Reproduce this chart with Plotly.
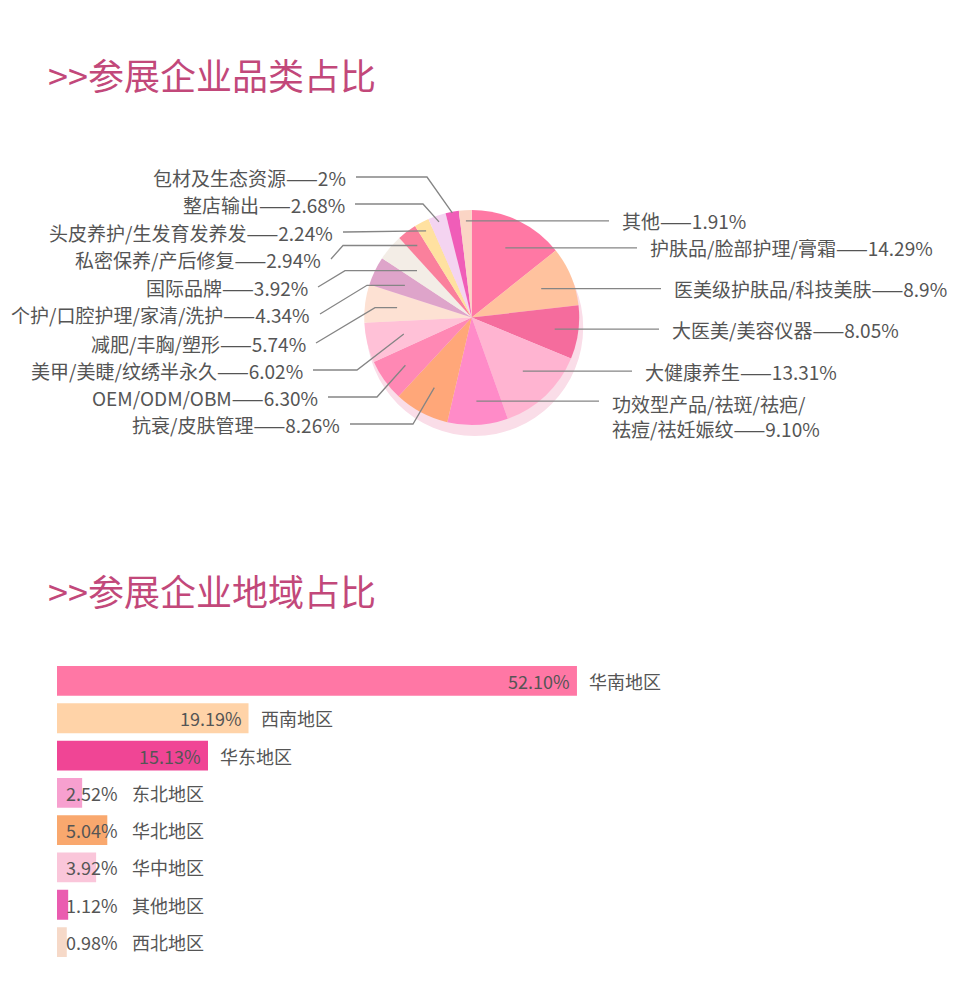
import math
import plotly.graph_objects as go

# ---------------- data ----------------
pie_labels = ["护肤品/脸部护理/膏霜", "医美级护肤品/科技美肤", "大医美/美容仪器", "大健康养生",
              "功效型产品/祛斑/祛疤/<br>祛痘/祛妊娠纹", "抗衰/皮肤管理", "OEM/ODM/OBM",
              "美甲/美睫/纹绣半永久", "减肥/丰胸/塑形", "个护/口腔护理/家清/洗护", "国际品牌",
              "私密保养/产后修复", "头皮养护/生发育发养发", "整店输出", "包材及生态资源", "其他"]
pie_values = [14.29, 8.9, 8.05, 13.31, 9.10, 8.26, 6.30, 6.02, 5.74, 4.34, 3.92,
              2.94, 2.24, 2.68, 2, 1.91]
pie_decimals = [2, 1, 2, 2, 2, 2, 2, 2, 2, 2, 2, 2, 2, 2, 0, 2]

bar_regions = ["华南地区", "西南地区", "华东地区", "东北地区", "华北地区", "华中地区", "其他地区", "西北地区"]
bar_values = [52.10, 19.19, 15.13, 2.52, 5.04, 3.92, 1.12, 0.98]

titles = [">>参展企业品类占比", ">>参展企业地域占比"]

# ---------------- styles / layout ----------------
W, H = 973, 1002
FONT = "Noto Sans CJK SC"
TXT = "#555555"
LINE = "#858585"
TITLE_C = "#C2487A"

pie_colors = ["#FF78A4", "#FFC29E", "#F56C9D", "#FFB4D1", "#FF8BC8", "#FFA779", "#FF88B4",
              "#FFC1D7", "#FDE1D3", "#DEA4CA", "#F3EDE6", "#FA809C", "#FFE1A0", "#F4D4F1",
              "#F05DB8", "#FBD5C5"]
bar_colors = ["#FF77A5", "#FFD3A8", "#F04595", "#F7A0CF", "#F9A86E", "#FAC6DA", "#EA5CB0", "#F6D9C8"]

cx, cy, R = 471.7, 317.5, 107.5          # pie geometry in pixels
anchor_frac = [0.72, 0.70, 0.78, 0.69, 0.78, 0.74, 0.76, 0.65, 0.70, 0.69, 0.67,
               0.84, 0.91, 0.94, 0.99, 0.90]
# right-side labels: index -> text start x
right_x = {15: 620, 0: 648, 1: 672, 2: 670, 3: 643, 4: 610}
# left-side labels: index -> (label y, text end x, elbow x, elbow on label row)
left_info = {14: (177, 348, 427, True), 13: (204, 347, 423, True), 12: (232, 335, 345, True),
             11: (259, 323, 343, False), 10: (287, 310, 345, False), 9: (314, 312, 367, False),
             8: (343, 308, 375, False), 7: (370, 305, 357, True), 6: (397, 320, 377, True),
             5: (424, 342, 413, True)}

fig = go.Figure()

fig.add_trace(go.Pie(
    values=pie_values, labels=pie_labels, sort=False, direction="clockwise", rotation=0,
    marker=dict(colors=pie_colors, line=dict(width=0)), textinfo="none", hoverinfo="skip",
    showlegend=False,
    domain=dict(x=[(cx - R) / W, (cx + R) / W], y=[1 - (cy + R) / H, 1 - (cy - R) / H]),
))

fig.add_trace(go.Bar(
    x=bar_values, y=bar_regions, orientation="h", marker=dict(color=bar_colors, line=dict(width=0)),
    width=0.8, xaxis="x2", yaxis="y2", hoverinfo="skip", showlegend=False,
))

shapes = []
annotations = []

# pie shadow
shapes.append(dict(type="circle", xref="x", yref="y", layer="below",
                   x0=cx + 3 - R - 1, x1=cx + 3 + R + 1, y0=cy + 10 - R - 1, y1=cy + 10 + R + 1,
                   fillcolor="#FADDE8", line=dict(width=0)))

total = sum(pie_values)
cum = 0.0
for i, v in enumerate(pie_values):
    mid = (cum + v / 2) / total * 2 * math.pi
    cum += v
    ax = cx + anchor_frac[i] * R * math.sin(mid)
    ay = cy - anchor_frac[i] * R * math.cos(mid)
    pct = f"{v:.{pie_decimals[i]}f}%"
    text = f"{pie_labels[i]}——{pct}"
    if i in right_x:
        tx = right_x[i]
        shapes.append(dict(type="path", xref="x", yref="y", layer="above",
                           path=f"M {ax:.1f},{ay:.1f} L {tx - 11:.1f},{ay:.1f}",
                           line=dict(color=LINE, width=1.3)))
        if "<br>" in text:
            annotations.append(dict(x=tx, y=ay - 13, xref="x", yref="y", text=text, showarrow=False,
                                    xanchor="left", yanchor="top", align="left",
                                    font=dict(family=FONT, size=19, color=TXT)))
        else:
            annotations.append(dict(x=tx, y=ay, xref="x", yref="y", text=text, showarrow=False,
                                    xanchor="left", yanchor="middle",
                                    font=dict(family=FONT, size=19, color=TXT)))
    else:
        ly, tend, ex, on_row = left_info[i]
        sx = tend + 8
        ey = ly if on_row else ay
        shapes.append(dict(type="path", xref="x", yref="y", layer="above",
                           path=f"M {sx:.1f},{ly:.1f} L {ex:.1f},{ey:.1f} L {ax:.1f},{ay:.1f}",
                           line=dict(color=LINE, width=1.3)))
        annotations.append(dict(x=tend, y=ly, xref="x", yref="y", text=text, showarrow=False,
                                xanchor="right", yanchor="middle",
                                font=dict(family=FONT, size=19, color=TXT)))

# bar labels
for region, v in zip(bar_regions, bar_values):
    pct = f"{v:.2f}%"
    if v > 10:
        annotations.append(dict(x=v, y=region, xref="x2", yref="y2", text=pct, showarrow=False,
                                xanchor="right", xshift=-5, font=dict(family=FONT, size=18, color=TXT)))
        annotations.append(dict(x=v, y=region, xref="x2", yref="y2", text=region, showarrow=False,
                                xanchor="left", xshift=10, font=dict(family=FONT, size=18, color=TXT)))
    else:
        annotations.append(dict(x=0, y=region, xref="x2", yref="y2", text=pct, showarrow=False,
                                xanchor="left", xshift=7, font=dict(family=FONT, size=18, color=TXT)))
        annotations.append(dict(x=0, y=region, xref="x2", yref="y2", text=region, showarrow=False,
                                xanchor="left", xshift=73, font=dict(family=FONT, size=18, color=TXT)))

# titles
for t, ty in zip(titles, [74, 590]):
    annotations.append(dict(x=46, y=ty, xref="x", yref="y", text=t, showarrow=False,
                            xanchor="left", yanchor="middle",
                            font=dict(family=FONT, size=36, color=TITLE_C)))

bar_top, bar_bot = 662.3, 960.7
px_per_pct = 9.98
fig.update_layout(
    width=W, height=H, margin=dict(l=0, r=0, t=0, b=0),
    paper_bgcolor="white", plot_bgcolor="rgba(0,0,0,0)",
    xaxis=dict(domain=[0, 1], range=[0, W], visible=False, fixedrange=True, anchor="y"),
    yaxis=dict(domain=[0, 1], range=[H, 0], visible=False, fixedrange=True, anchor="x"),
    xaxis2=dict(domain=[57 / W, 1], range=[0, (W - 57) / px_per_pct], visible=False, anchor="y2"),
    yaxis2=dict(domain=[1 - bar_bot / H, 1 - bar_top / H], autorange="reversed", visible=False,
                anchor="x2"),
    shapes=shapes, annotations=annotations, showlegend=False,
    font=dict(family=FONT),
)

fig.write_html("out.html", config={"displayModeBar": False},
               post_script="document.body.style.margin='0';document.body.style.overflow='hidden';")
